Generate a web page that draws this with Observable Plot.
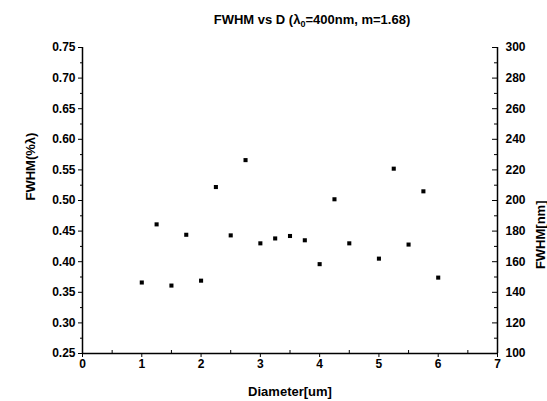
<!DOCTYPE html>
<html>
<head>
<meta charset="utf-8">
<script src="https://cdn.jsdelivr.net/npm/d3@7"></script>
<script src="https://cdn.jsdelivr.net/npm/@observablehq/plot@0.6"></script>
<style>
  html, body { margin: 0; padding: 0; background: #fff; }
  svg { font-family: "Liberation Sans", Arial, sans-serif; }
</style>
</head>
<body>
<div id="chart"></div>
<script>
// Data
const diameter = [1, 1.25, 1.5, 1.75, 2, 2.25, 2.5, 2.75, 3, 3.25, 3.5, 3.75, 4, 4.25, 4.5, 5, 5.25, 5.5, 5.75, 6];
const fwhmPct  = [0.366, 0.461, 0.361, 0.444, 0.369, 0.522, 0.443, 0.566, 0.430, 0.438, 0.442, 0.435, 0.396, 0.502, 0.430, 0.405, 0.552, 0.428, 0.515, 0.374];
const xTicks = [0, 1, 2, 3, 4, 5, 6, 7];
const xMinor = [0.5, 1.5, 2.5, 3.5, 4.5, 5.5, 6.5];
const yTicks = [0.25, 0.30, 0.35, 0.40, 0.45, 0.50, 0.55, 0.60, 0.65, 0.70, 0.75];
const yMinor = [0.275, 0.325, 0.375, 0.425, 0.475, 0.525, 0.575, 0.625, 0.675, 0.725];
const rightTicks = [100, 120, 140, 160, 180, 200, 220, 240, 260, 280, 300];
const rightMinor = [110, 130, 150, 170, 190, 210, 230, 250, 270, 290];
const nmPerUnit = 400; // λ0 = 400 nm

const points = diameter.map((d, i) => ({d, f: fwhmPct[i]}));
const W = 547, H = 401, mL = 82, mR = 50, mT = 47, mB = 48;
const plotW = W - mL - mR, plotH = H - mT - mB;

const plot = Plot.plot({
  width: W, height: H,
  marginLeft: mL, marginRight: mR, marginTop: mT, marginBottom: mB,
  style: {fontSize: "12px", fontFamily: "Liberation Sans, Arial, sans-serif", color: "#000", background: "#fff"},
  x: {domain: [0, 7]},
  y: {domain: [0.25, 0.75]},
  marks: [
    // left axis
    Plot.axisY({ticks: yTicks, tickFormat: d3.format(".2f"), tickSize: 4, tickPadding: 3, label: null, fontWeight: "bold"}),
    Plot.axisY({ticks: yMinor, tickSize: 2, tickFormat: () => "", label: null}),
    // right axis (nm), inward ticks
    Plot.axisY({anchor: "right", ticks: rightTicks.map(v => v / nmPerUnit), tickSize: 0, tickPadding: 8,
      tickFormat: d => String(Math.round(d * nmPerUnit)), label: null, fontWeight: "bold"}),
    Plot.tickY(rightTicks.map(v => v / nmPerUnit), {y: d => d, insetLeft: plotW - 5, stroke: "#000"}),
    Plot.tickY(rightMinor.map(v => v / nmPerUnit), {y: d => d, insetLeft: plotW - 3, stroke: "#000"}),
    // bottom axis
    Plot.axisX({ticks: xTicks, tickFormat: d3.format("d"), tickSize: 4, tickPadding: 2, label: null, fontWeight: "bold"}),
    Plot.tickX(xMinor, {x: d => d, insetTop: plotH - 3, stroke: "#000"}),
    // axis lines
    Plot.ruleX([0], {strokeWidth: 1.5}),
    Plot.ruleX([7], {strokeWidth: 1.5}),
    Plot.ruleY([0.25], {strokeWidth: 1.5}),
    // data
    Plot.dot(points, {x: "d", y: "f", symbol: "square", r: 2.3, fill: "#000", stroke: null}),
    // axis labels
    Plot.text(["Diameter[um]"], {frameAnchor: "bottom", dy: 42, fontSize: 13, fontWeight: "bold"}),
    Plot.text(["FWHM(%λ)"], {frameAnchor: "left", dx: -52, rotate: -90, fontSize: 13, fontWeight: "bold"}),
    Plot.text(["FWHM[nm]"], {frameAnchor: "right", dx: 43, rotate: -90, fontSize: 13, fontWeight: "bold"})
  ]
});

// Title with subscript
const svg = d3.select(plot);
const t = svg.append("text")
  .attr("x", 312).attr("y", 24)
  .attr("text-anchor", "middle")
  .attr("font-size", 13).attr("font-weight", "bold")
  .attr("font-family", "Liberation Sans, Arial, sans-serif");
t.append("tspan").text("FWHM vs D (λ");
t.append("tspan").attr("font-size", 9).attr("dy", 3).text("0");
t.append("tspan").attr("dy", -3).text("=400nm, m=1.68)");

document.getElementById("chart").appendChild(plot);
</script>
</body>
</html>
